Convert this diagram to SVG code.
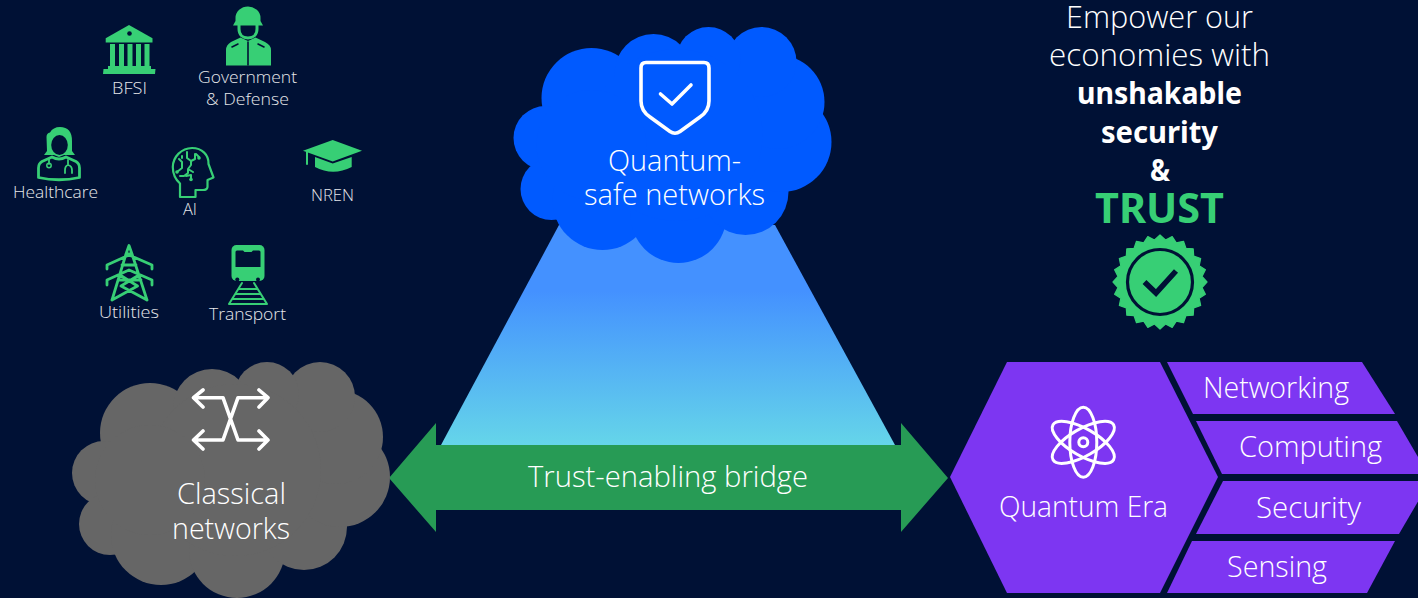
<svg xmlns="http://www.w3.org/2000/svg" xmlns:xlink="http://www.w3.org/1999/xlink" width="1418" height="598" viewBox="0 0 1418 598">
<style>
text{font-family:"Open Sans","Noto Sans","Liberation Sans",sans-serif;text-anchor:middle;font-weight:300;fill:#fff}
.s{font-size:16.500px;fill:#e6e7ea}
.l{font-size:28.500px}
.h{font-size:31px}
.b{font-family:"Noto Sans","Open Sans",sans-serif;font-size:31px;font-weight:700}
.ic{fill:#37cf75}
.ln{fill:none;stroke:#37cf75;stroke-width:2.800;stroke-linecap:round;stroke-linejoin:round}
.dk{fill:#001135}
.dl{fill:none;stroke:#001135;stroke-width:1.600;stroke-linecap:round}
.w{fill:none;stroke:#fff;stroke-width:3.600;stroke-linecap:round;stroke-linejoin:round}
</style>
<defs>
<g id="cloud">
<circle cx="150" cy="433" r="50"/><circle cx="104" cy="473" r="32"/><circle cx="110" cy="524" r="31"/><circle cx="161" cy="535" r="50"/><circle cx="237" cy="550" r="48"/><circle cx="304" cy="527" r="43"/><circle cx="340" cy="477" r="50"/><circle cx="336" cy="437" r="47"/><circle cx="320" cy="397" r="35"/><circle cx="267" cy="394" r="32"/><circle cx="212" cy="408" r="39"/><circle cx="235" cy="470" r="86"/><circle cx="150" cy="480" r="55"/>
</g>
<linearGradient id="tg" x1="0" y1="225" x2="0" y2="445" gradientUnits="userSpaceOnUse">
<stop offset="0.3" stop-color="#4491ff"/><stop offset="1" stop-color="#65d5e9"/>
</linearGradient>
</defs>
<rect width="1418" height="598" fill="#001135"/>

<g id="connectors">
<polygon points="441,445 559,225 775,225 895,445" fill="url(#tg)"/>
<polygon points="389,478 436,423 436,445 901,445 901,423 948,478 901,532 901,510 436,510 436,532" fill="#279b55"/>
<text class="l" x="668" y="487" textLength="280" lengthAdjust="spacingAndGlyphs">Trust-enabling bridge</text>
</g>

<g id="classical-networks">
<use xlink:href="#cloud" href="#cloud" fill="#666666"/>
<path class="w" d="M203 390L193.500 397.700L203 407M193.500 397.700H223L238 440H268M259 431L268 440L259 449M203 431L193.500 440L203 449M193.500 440H223L238 397.700H268M259 390L268 397.700L259 407"/>
<text class="l" x="231.500" y="504" textLength="109" lengthAdjust="spacingAndGlyphs">Classical</text>
<text class="l" x="231" y="539" textLength="118" lengthAdjust="spacingAndGlyphs">networks</text>
</g>

<g id="quantum-safe-networks">
<use xlink:href="#cloud" href="#cloud" transform="translate(441.500,-335)" fill="#005aff"/>
<path class="w" d="M646 62.500H704Q709 62.500 709 68V101Q709 111 700 117L680 131.500Q675 135 670 131.500L650 117Q641 111 641 101V68Q641 62.500 646 62.500Z"/>
<path class="w" d="M660.500 94L672 104L691 85"/>
<text class="l" x="674.500" y="170.500" textLength="133" lengthAdjust="spacingAndGlyphs">Quantum-</text>
<text class="l" x="674.500" y="205" textLength="181" lengthAdjust="spacingAndGlyphs">safe networks</text>
</g>

<g id="quantum-era">
<polygon points="950,477 1007,362 1160,362 1218,477 1160,593 1007,593" fill="#7d36f2"/>
<g fill="none" stroke="#fff" stroke-width="3">
<ellipse cx="1083.300" cy="442.300" rx="13.500" ry="35"/>
<ellipse cx="1083.300" cy="442.300" rx="13.500" ry="35" transform="rotate(60 1083.300 442.300)"/>
<ellipse cx="1083.300" cy="442.300" rx="13.500" ry="35" transform="rotate(-60 1083.300 442.300)"/>
<circle cx="1083.300" cy="442.300" r="4.500"/>
</g>
<text class="l" x="1083.500" y="517" textLength="169" lengthAdjust="spacingAndGlyphs">Quantum Era</text>
</g>
<g id="networking"><polygon points="1167,362 1362,362 1395,414 1193,414" fill="#7d36f2"/><text class="l" x="1276" y="398" textLength="146" lengthAdjust="spacingAndGlyphs">Networking</text></g>
<g id="computing"><polygon points="1196,421 1397,421 1428,474 1222,474" fill="#7d36f2"/><text class="l" x="1310.500" y="457" textLength="143" lengthAdjust="spacingAndGlyphs">Computing</text></g>
<g id="security"><polygon points="1223,481 1430,481 1399,534 1196,534" fill="#7d36f2"/><text class="l" x="1308.500" y="518" textLength="105" lengthAdjust="spacingAndGlyphs">Security</text></g>
<g id="sensing"><polygon points="1192,541 1395,541 1367,593 1167,593" fill="#7d36f2"/><text class="l" x="1277" y="577" textLength="100" lengthAdjust="spacingAndGlyphs">Sensing</text></g>

<g id="trust-message">
<text class="h" x="1159.500" y="28" textLength="187" lengthAdjust="spacingAndGlyphs">Empower our</text>
<text class="h" x="1159.500" y="66" textLength="221" lengthAdjust="spacingAndGlyphs">economies with</text>
<text class="b" x="1159.500" y="104" textLength="165" lengthAdjust="spacingAndGlyphs">unshakable</text>
<text class="b" x="1159.500" y="143" textLength="117" lengthAdjust="spacingAndGlyphs">security</text>
<text class="b" x="1160" y="181" textLength="20" lengthAdjust="spacingAndGlyphs">&amp;</text>
<text x="1159.500" y="223" font-size="42" style="font-family:'Noto Sans',sans-serif;font-weight:700;fill:#37cf75" textLength="129" lengthAdjust="spacingAndGlyphs">TRUST</text>
</g>
<g id="trust-badge" transform="translate(1160 282)">
<polygon class="ic" stroke="#37cf75" stroke-width="1.200" stroke-linejoin="round" points="47,0 42,5.500 45.400,12.200 39.200,16.300 40.700,23.500 33.700,25.900 33.200,33.200 25.900,33.700 23.500,40.700 16.300,39.200 12.200,45.400 5.500,42 0,47 -5.500,42 -12.200,45.400 -16.300,39.200 -23.500,40.700 -25.900,33.700 -33.200,33.200 -33.700,25.900 -40.700,23.500 -39.200,16.300 -45.400,12.200 -42,5.500 -47,0 -42,-5.500 -45.400,-12.200 -39.200,-16.300 -40.700,-23.500 -33.700,-25.900 -33.200,-33.200 -25.900,-33.700 -23.500,-40.700 -16.300,-39.200 -12.200,-45.400 -5.500,-42 0,-47 5.500,-42 12.200,-45.400 16.300,-39.200 23.500,-40.700 25.900,-33.700 33.200,-33.200 33.700,-25.900 40.700,-23.500 39.200,-16.300 45.400,-12.200 42,-5.500"/>
<circle r="32.500" fill="none" stroke="#001135" stroke-width="3.200"/>
<path d="M-15.500 0L-4 11L16 -11" fill="none" stroke="#001135" stroke-width="5.500"/>
</g>

<g id="bfsi">
<path class="ic" d="M129 25L152.500 38.300V42.500H105.700V38.300Z"/>
<circle class="dk" cx="129.500" cy="33.500" r="2.300"/>
<path class="ic" d="M110 44h5v22H110zM119 44h5v22H119zM127.500 44h5v22H127.500zM136 44h5v22H136zM144.500 44h5v22H144.500zM108 66H151V69H155.500L155 74H103L103.500 69H108Z"/>
<text class="s" x="129.500" y="94" textLength="35" lengthAdjust="spacingAndGlyphs">BFSI</text>
</g>
<g id="government-defense">
<path class="ic" d="M233 25.500L235.500 21V18A12.500 11.500 0 0 1 260.500 18V21L263 25.500Z"/>
<path d="M239 25V29C239 35 243 38 248 38C253 38 257 35 257 29V25" fill="none" stroke="#37cf75" stroke-width="3"/>
<path class="ic" d="M226 65.500V50Q226 45 231 42L240.500 37.500L248 41L255.500 37.500L265 42Q271 45 271 50V65.500Z"/>
<path class="dl" d="M248 42V65M232 47L238 44M258 44L264 47"/>
<text class="s" x="247.500" y="83" textLength="99" lengthAdjust="spacingAndGlyphs">Government</text>
<text class="s" x="247.500" y="105" textLength="83" lengthAdjust="spacingAndGlyphs">&amp; Defense</text>
</g>
<g id="healthcare">
<path class="ic" d="M46.500 137Q46.500 133 50 132.500Q53 127 60 127Q72 127 72 141V151L75 155H64L59 157L54 155H44L47 151Z"/>
<ellipse class="dk" cx="59.500" cy="145" rx="8.300" ry="10"/>
<path class="ln" d="M52 157L42 161.500Q38.500 163.500 38.500 168V177.500Q59 182 79.500 177.500V168Q79.500 163.500 76 161.500L66 157Q59 161 52 157Z"/>
<path class="ln" style="stroke-width:1.800" d="M49 159V164M68 160V165M68 165Q65 166 65 170V173M68 165Q72 166 72 170V173"/>
<circle cx="49" cy="165.500" r="2.200" fill="none" stroke="#37cf75" stroke-width="1.500"/>
<text class="s" x="55.500" y="198" textLength="85" lengthAdjust="spacingAndGlyphs">Healthcare</text>
</g>
<g id="ai">
<path class="ln" style="stroke-width:2.200" d="M180 197V183.500Q172.800 177 172.800 167A19.500 19.500 0 0 1 192 148C202 148 209 155 208.500 164L213.500 177.500L207.500 180V187Q207 190 203 190H195.500V197Z"/>
<path class="ln" style="stroke-width:2" d="M187 152V158L191 161V165L188 169V173L184 176H180M179 159L182 162V168L177 172M196 154L199 157M186 176L191 175V179M182 156V158M191 161L195 159V154M188 169L193 172"/>
<circle class="ic" cx="191" cy="179.500" r="1.800"/><circle class="ic" cx="177" cy="172" r="1.800"/><circle class="ic" cx="199" cy="158" r="1.800"/>
<text class="s" x="190" y="215" textLength="14" lengthAdjust="spacingAndGlyphs">AI</text>
</g>
<g id="nren">
<path class="ic" d="M303 150.700L332.700 140L362 150.700L332.700 161.500Z"/>
<path class="ic" d="M315 157L332.700 163.500L351.700 157V167Q333 176.500 315 167Z"/>
<path class="ln" style="stroke-width:2" d="M307 152V164"/>
<text class="s" x="332.500" y="201" textLength="43" lengthAdjust="spacingAndGlyphs">NREN</text>
</g>
<g id="utilities">
<path class="ln" d="M112 300L126 254L129 245.500L132 254L147 300M112 300L137.500 286L120 275M147 300L121 286L139 275M126 254H132M107 269V265L129 255L152 265V269M107 285V280L129 270L152 280V285M122 265H136M118 280H141"/>
<text class="s" x="129" y="318" textLength="60" lengthAdjust="spacingAndGlyphs">Utilities</text>
</g>
<g id="transport">
<rect class="ic" x="231.500" y="245" width="33" height="36" rx="5"/>
<path class="dk" d="M237 250.500H243L244.500 252H251.500L253 250.500H259Q260.500 250.500 260.500 252V267H235.500V252Q235.500 250.500 237 250.500Z"/>
<circle class="dk" cx="237.300" cy="279.500" r="2"/><circle class="dk" cx="258" cy="279.500" r="2"/>
<path class="ln" style="stroke-width:2" d="M242 283L229 304M254 283L267 304M239 289H257M236 294H260M233 299H263M229 304H267"/>
<text class="s" x="247.500" y="320" textLength="77" lengthAdjust="spacingAndGlyphs">Transport</text>
</g>
</svg>
